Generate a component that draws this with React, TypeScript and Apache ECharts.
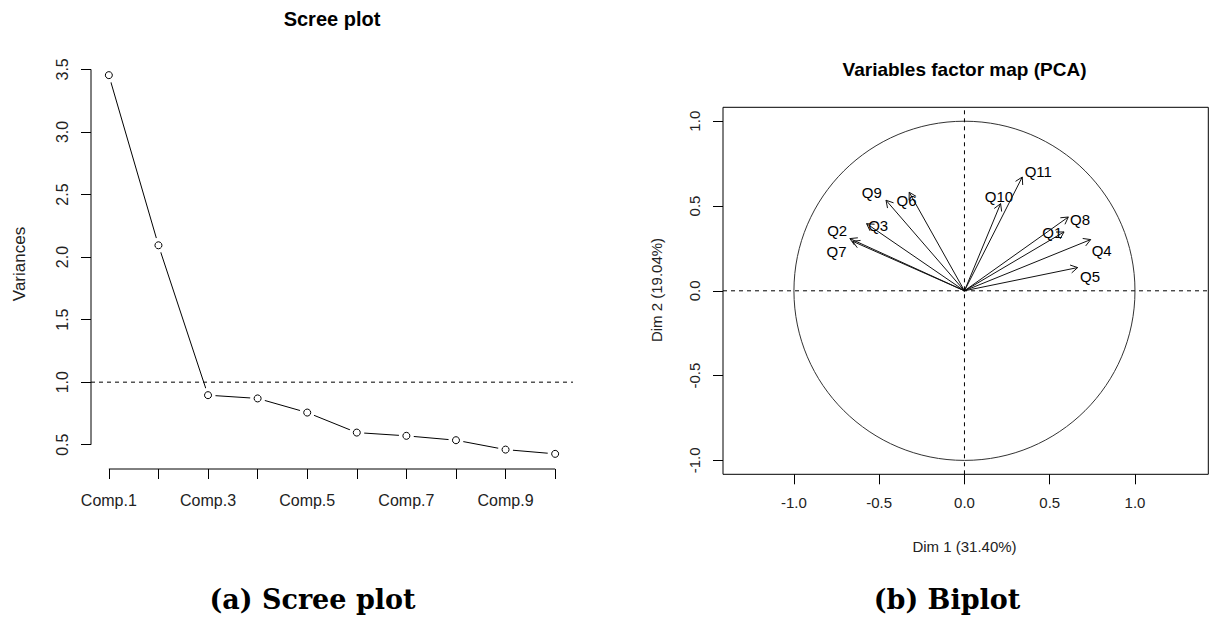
import React, { useEffect, useRef } from "react";
import * as echarts from "echarts";

// ---- Scree plot data ----
const components = ["Comp.1", "Comp.2", "Comp.3", "Comp.4", "Comp.5", "Comp.6", "Comp.7", "Comp.8", "Comp.9", "Comp.10"];
const variances = [3.454, 2.094, 0.896, 0.87, 0.757, 0.597, 0.571, 0.536, 0.461, 0.427];
const screeYTicks = [0.5, 1.0, 1.5, 2.0, 2.5, 3.0, 3.5];
const screeXLabelEvery = 2;
const kaiserCutoff = 1.0;

// ---- Variables factor map data ----
const varNames = ["Q1", "Q2", "Q3", "Q4", "Q5", "Q6", "Q7", "Q8", "Q9", "Q10", "Q11"];
const dim1 = [0.584, -0.672, -0.574, 0.74, 0.664, -0.324, -0.656, 0.609, -0.46, 0.212, 0.339];
const dim2 = [0.347, 0.308, 0.396, 0.302, 0.137, 0.581, 0.292, 0.435, 0.534, 0.514, 0.671];
const pcaTicks = [-1.0, -0.5, 0.0, 0.5, 1.0];
const dim1Pct = "31.40";
const dim2Pct = "19.04";

// label placement (pixel offsets from each arrow tip)
const labelOffsets: [number, number][] = [
  [-11.7, 0.6], [-12.7, -7.6], [11.6, 1.7], [11, 10.7], [12.3, 9.4], [-2.6, 8.7],
  [-16, 10], [11.7, 2.6], [-14.3, -7.3], [-1.7, -7.3], [16, -6],
];

const SANS = '"Liberation Sans", Arial, sans-serif';

export default function App() {
  const ref = useRef<HTMLDivElement>(null);

  useEffect(() => {
    if (!ref.current) return;
    const chart = echarts.init(ref.current, null, { renderer: "svg" });

    // R-style axis ranges: data range extended by 4%
    const nComp = variances.length;
    const xPad = (nComp - 1) * 0.04;
    const sxMin = 1 - xPad;
    const sxMax = nComp + xPad;
    const vMin = Math.min(...variances);
    const vMax = Math.max(...variances);
    const yPad = (vMax - vMin) * 0.04;
    const syMin = vMin - yPad;
    const syMax = vMax + yPad;

    const pxMin = -1.416, pxMax = 1.43, pyMin = -1.082, pyMax = 1.082;

    const screePts = variances.map((v, i) => [i + 1, v]);
    const compTicks = components.map((_, i) => i + 1);
    const compLabelTicks = compTicks.filter((_, i) => i % screeXLabelEvery === 0);

    const arrowData = varNames.map((n, i) => [dim1[i], dim2[i], n]);

    const option: any = {
      animation: false,
      backgroundColor: "#fff",
      grid: [
        { left: 91, top: 60, width: 482, height: 409, show: false },
        { left: 723, top: 107.3, width: 485.3, height: 367, show: true, borderColor: "#000", borderWidth: 1, backgroundColor: "transparent" },
      ],
      xAxis: [
        {
          gridIndex: 0, type: "value", min: sxMin, max: sxMax,
          axisLine: { show: false, onZero: false }, splitLine: { show: false },
          axisTick: { show: true, length: 10, customValues: compTicks, lineStyle: { color: "#000" } },
          axisLabel: {
            customValues: compLabelTicks, margin: 23, fontSize: 16, fontFamily: SANS, color: "#222",
            formatter: (v: number) => components[Math.round(v) - 1],
          },
        },
        {
          gridIndex: 1, type: "value", min: pxMin, max: pxMax,
          axisLine: { show: false, onZero: false }, splitLine: { show: false },
          axisTick: { show: true, length: 10, customValues: pcaTicks, lineStyle: { color: "#000" } },
          axisLabel: {
            customValues: pcaTicks, margin: 21, fontSize: 15, fontFamily: SANS, color: "#222",
            formatter: (v: number) => v.toFixed(1),
          },
        },
      ],
      yAxis: [
        {
          gridIndex: 0, type: "value", min: syMin, max: syMax,
          axisLine: { show: false, onZero: false }, splitLine: { show: false },
          axisTick: { show: true, length: 10, customValues: screeYTicks, lineStyle: { color: "#000" } },
          axisLabel: {
            customValues: screeYTicks, rotate: 90, margin: 21, fontSize: 16, fontFamily: SANS, color: "#222",
            formatter: (v: number) => v.toFixed(1),
          },
        },
        {
          gridIndex: 1, type: "value", min: pyMin, max: pyMax,
          axisLine: { show: false, onZero: false }, splitLine: { show: false },
          axisTick: { show: true, length: 10, customValues: pcaTicks, lineStyle: { color: "#000" } },
          axisLabel: {
            customValues: pcaTicks, rotate: 90, margin: 21, fontSize: 15, fontFamily: SANS, color: "#222",
            formatter: (v: number) => v.toFixed(1),
          },
        },
      ],
      series: [
        // scree: axis lines spanning only the tick range
        {
          type: "line", xAxisIndex: 0, yAxisIndex: 0, clip: false, symbol: "none", silent: true, z: 1,
          data: [[sxMin, screeYTicks[0]], [sxMin, screeYTicks[screeYTicks.length - 1]]],
          lineStyle: { color: "#000", width: 1 },
        },
        {
          type: "line", xAxisIndex: 0, yAxisIndex: 0, clip: false, symbol: "none", silent: true, z: 1,
          data: [[1, syMin], [nComp, syMin]],
          lineStyle: { color: "#000", width: 1 },
        },
        // Kaiser criterion line
        {
          type: "line", xAxisIndex: 0, yAxisIndex: 0, symbol: "none", silent: true, z: 1,
          data: [[sxMin, kaiserCutoff], [sxMax, kaiserCutoff]],
          lineStyle: { color: "#000", width: 1, type: [4, 4] },
        },
        // variances connecting line
        {
          type: "line", xAxisIndex: 0, yAxisIndex: 0, symbol: "none", silent: true, z: 1,
          data: screePts, lineStyle: { color: "#000", width: 1 },
        },
        // gap around each point (type="b" style)
        {
          type: "scatter", xAxisIndex: 0, yAxisIndex: 0, silent: true, z: 5,
          data: screePts, symbol: "circle", symbolSize: 15,
          itemStyle: { color: "#fff", borderWidth: 0, opacity: 1 },
        },
        {
          type: "scatter", xAxisIndex: 0, yAxisIndex: 0, silent: true, z: 6,
          data: screePts, symbol: "circle", symbolSize: 7,
          itemStyle: { color: "#fff", borderColor: "#000", borderWidth: 1, opacity: 1 },
        },
        // factor map: reference axes
        {
          type: "line", xAxisIndex: 1, yAxisIndex: 1, symbol: "none", silent: true,
          data: [[pxMin, 0], [pxMax, 0]], lineStyle: { color: "#000", width: 1, type: [4, 4] },
        },
        {
          type: "line", xAxisIndex: 1, yAxisIndex: 1, symbol: "none", silent: true,
          data: [[0, pyMin], [0, pyMax]], lineStyle: { color: "#000", width: 1, type: [4, 4] },
        },
        // correlation circle
        {
          type: "custom", xAxisIndex: 1, yAxisIndex: 1, silent: true,
          data: [[0, 0]],
          renderItem: (_p: any, api: any) => {
            const c = api.coord([0, 0]);
            const s = api.size([1, 1]);
            return {
              type: "ellipse",
              shape: { cx: c[0], cy: c[1], rx: s[0], ry: s[1] },
              style: { fill: "none", stroke: "#333", lineWidth: 1 },
            };
          },
        },
        // variable arrows with labels
        {
          type: "custom", xAxisIndex: 1, yAxisIndex: 1, silent: true,
          data: arrowData,
          renderItem: (params: any, api: any) => {
            const i = params.dataIndex;
            const o = api.coord([0, 0]);
            const t = api.coord([api.value(0), api.value(1)]);
            const ang = Math.atan2(t[1] - o[1], t[0] - o[0]);
            const L = 8;
            const a = Math.PI / 6;
            const p1 = [t[0] - L * Math.cos(ang - a), t[1] - L * Math.sin(ang - a)];
            const p2 = [t[0] - L * Math.cos(ang + a), t[1] - L * Math.sin(ang + a)];
            const off = labelOffsets[i];
            return {
              type: "group",
              children: [
                { type: "line", shape: { x1: o[0], y1: o[1], x2: t[0], y2: t[1] }, style: { stroke: "#111", lineWidth: 1 } },
                { type: "polyline", shape: { points: [p1, t, p2] }, style: { stroke: "#111", fill: "none", lineWidth: 1 } },
                {
                  type: "text", x: t[0] + off[0], y: t[1] + off[1],
                  style: {
                    text: varNames[i], fontSize: 15, fontFamily: SANS, fill: "#000",
                    align: "center", verticalAlign: "middle",
                  },
                },
              ],
            };
          },
        },
      ],
      graphic: [
        { type: "text", x: 332, y: 19, style: { text: "Scree plot", font: `bold 20px ${SANS}`, fill: "#000", align: "center", verticalAlign: "middle" } },
        { type: "text", x: 19, y: 264, rotation: Math.PI / 2, style: { text: "Variances", font: `17px ${SANS}`, fill: "#222", align: "center", verticalAlign: "middle" } },
        { type: "text", x: 964.5, y: 69, style: { text: "Variables factor map (PCA)", font: `bold 19px ${SANS}`, fill: "#000", align: "center", verticalAlign: "middle" } },
        { type: "text", x: 964.5, y: 546, style: { text: `Dim 1 (${dim1Pct}%)`, font: `15px ${SANS}`, fill: "#222", align: "center", verticalAlign: "middle" } },
        { type: "text", x: 656, y: 290, rotation: Math.PI / 2, style: { text: `Dim 2 (${dim2Pct}%)`, font: `15px ${SANS}`, fill: "#222", align: "center", verticalAlign: "middle" } },
        { type: "text", x: 312.5, y: 599, style: { text: "(a) Scree plot", font: `bold 27px "DejaVu Serif", serif`, fill: "#000", align: "center", verticalAlign: "middle" } },
        { type: "text", x: 947, y: 599, style: { text: "(b) Biplot", font: `bold 27px "DejaVu Serif", serif`, fill: "#000", align: "center", verticalAlign: "middle" } },
      ],
    };

    chart.setOption(option);
    return () => chart.dispose();
  }, []);

  return (
    <div
      ref={ref}
      style={{ position: "fixed", left: 0, top: 0, width: 1210, height: 618, background: "#fff" }}
    />
  );
}
